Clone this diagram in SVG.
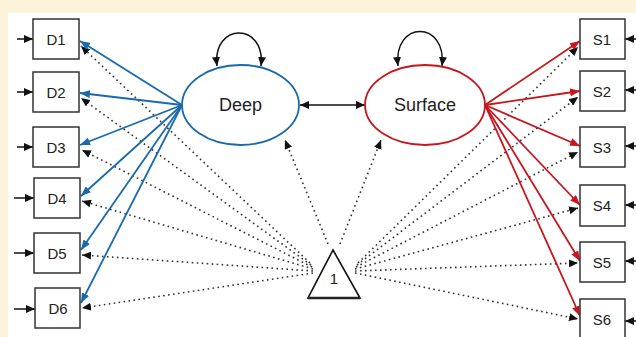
<svg xmlns="http://www.w3.org/2000/svg" width="636" height="337" viewBox="0 0 636 337">
<defs>
<style>
.box{fill:#fff;stroke:#333;stroke-width:1.5}
.lbl{font-family:"Liberation Sans",Arial,sans-serif;font-size:15px;fill:#222;text-anchor:middle}
.big{font-family:"Liberation Sans",Arial,sans-serif;font-size:18px;fill:#222;text-anchor:middle}
.blue{stroke:#1a6aab;stroke-width:1.8;fill:none;marker-end:url(#ab)}
.red{stroke:#c8161d;stroke-width:1.8;fill:none;marker-end:url(#ar)}
.dot{stroke:#333;stroke-width:1.6;fill:none;stroke-dasharray:1.6 3.4;marker-end:url(#ak)}
.blk{stroke:#111;stroke-width:1.5;fill:none}
</style>
<marker id="ak" viewBox="0 0 10 10" refX="10" refY="5" markerWidth="9" markerHeight="8" markerUnits="userSpaceOnUse" orient="auto" preserveAspectRatio="none"><path d="M0,0 L10,5 L0,10 z" fill="#111"/></marker>
<marker id="ak2" viewBox="0 0 10 10" refX="10" refY="5" markerWidth="9" markerHeight="8" markerUnits="userSpaceOnUse" orient="auto-start-reverse" preserveAspectRatio="none"><path d="M0,0 L10,5 L0,10 z" fill="#111"/></marker>
<marker id="ab" viewBox="0 0 10 10" refX="10" refY="5" markerWidth="10" markerHeight="8" markerUnits="userSpaceOnUse" orient="auto" preserveAspectRatio="none"><path d="M0,0 L10,5 L0,10 z" fill="#1a6aab"/></marker>
<marker id="ar" viewBox="0 0 10 10" refX="10" refY="5" markerWidth="10" markerHeight="8" markerUnits="userSpaceOnUse" orient="auto" preserveAspectRatio="none"><path d="M0,0 L10,5 L0,10 z" fill="#c8161d"/></marker>
</defs>
<rect x="0" y="0" width="636" height="337" fill="#fdf2da"/>
<rect x="8" y="13" width="628" height="324" fill="#ffffff"/>
<g id="connectors">
<!-- dotted from triangle -->
<line class="dot" x1="310" y1="263" x2="81" y2="46"/>
<line class="dot" x1="311" y1="265" x2="81" y2="98"/>
<line class="dot" x1="312" y1="267" x2="82" y2="150"/>
<line class="dot" x1="313" y1="269" x2="82" y2="201"/>
<line class="dot" x1="313" y1="271" x2="82" y2="255"/>
<line class="dot" x1="313" y1="273" x2="82" y2="308"/>
<line class="dot" x1="358" y1="263" x2="578" y2="47"/>
<line class="dot" x1="357" y1="265" x2="578" y2="97"/>
<line class="dot" x1="356" y1="267" x2="578" y2="152"/>
<line class="dot" x1="355" y1="269" x2="578" y2="208"/>
<line class="dot" x1="355" y1="271" x2="578" y2="263"/>
<line class="dot" x1="355" y1="273" x2="578" y2="319"/>
<line class="dot" x1="328" y1="244" x2="285" y2="140"/>
<line class="dot" x1="340" y1="244" x2="381" y2="140"/>
<!-- loadings -->
<line class="blue" x1="182" y1="105" x2="80" y2="41"/>
<line class="blue" x1="182" y1="105" x2="80" y2="93"/>
<line class="blue" x1="182" y1="105" x2="80" y2="145"/>
<line class="blue" x1="182" y1="105" x2="81" y2="196"/>
<line class="blue" x1="182" y1="105" x2="81" y2="250"/>
<line class="blue" x1="182" y1="105" x2="81" y2="303"/>
<line class="red" x1="485" y1="105" x2="580" y2="41"/>
<line class="red" x1="485" y1="105" x2="580" y2="91"/>
<line class="red" x1="485" y1="105" x2="580" y2="146"/>
<line class="red" x1="485" y1="105" x2="580" y2="205"/>
<line class="red" x1="485" y1="105" x2="580" y2="261"/>
<line class="red" x1="485" y1="105" x2="580" y2="316"/>
<!-- covariance and variances -->
<line class="blk" x1="300" y1="105" x2="365" y2="105" marker-start="url(#ak2)" marker-end="url(#ak2)"/>
<path class="blk" d="M217,66 C212,22 266,22 261,66" marker-start="url(#ak2)" marker-end="url(#ak2)"/>
<path class="blk" d="M398,66 C393,20 447,20 442,66" marker-start="url(#ak2)" marker-end="url(#ak2)"/>
<!-- residual arrows -->
<line class="blk" x1="17" y1="39" x2="33" y2="39" marker-end="url(#ak)"/>
<line class="blk" x1="17" y1="92" x2="33" y2="92" marker-end="url(#ak)"/>
<line class="blk" x1="17" y1="147" x2="33" y2="147" marker-end="url(#ak)"/>
<line class="blk" x1="14" y1="198" x2="34" y2="198" marker-end="url(#ak)"/>
<line class="blk" x1="14" y1="253" x2="34" y2="253" marker-end="url(#ak)"/>
<line class="blk" x1="14" y1="309" x2="35" y2="309" marker-end="url(#ak)"/>
<line class="blk" x1="636" y1="39" x2="625" y2="39" marker-end="url(#ak)"/>
<line class="blk" x1="636" y1="90" x2="625" y2="90" marker-end="url(#ak)"/>
<line class="blk" x1="636" y1="146" x2="625" y2="146" marker-end="url(#ak)"/>
<line class="blk" x1="636" y1="205" x2="625" y2="205" marker-end="url(#ak)"/>
<line class="blk" x1="636" y1="261" x2="625" y2="261" marker-end="url(#ak)"/>
<line class="blk" x1="636" y1="321" x2="625" y2="321" marker-end="url(#ak)"/>
</g>
<g id="D1"><rect class="box" x="33" y="19" width="46" height="40"/><text class="lbl" x="56" y="45">D1</text></g>
<g id="D2"><rect class="box" x="33" y="72" width="46" height="40"/><text class="lbl" x="56" y="98">D2</text></g>
<g id="D3"><rect class="box" x="33" y="127" width="46" height="40"/><text class="lbl" x="56" y="153">D3</text></g>
<g id="D4"><rect class="box" x="34" y="178" width="46" height="40"/><text class="lbl" x="57" y="204">D4</text></g>
<g id="D5"><rect class="box" x="34" y="233" width="46" height="40"/><text class="lbl" x="57" y="259">D5</text></g>
<g id="D6"><rect class="box" x="35" y="288" width="45" height="40"/><text class="lbl" x="58" y="314">D6</text></g>
<g id="S1"><rect class="box" x="580" y="19" width="45" height="40"/><text class="lbl" x="602" y="45">S1</text></g>
<g id="S2"><rect class="box" x="580" y="71" width="45" height="40"/><text class="lbl" x="602" y="97">S2</text></g>
<g id="S3"><rect class="box" x="580" y="127" width="45" height="40"/><text class="lbl" x="602" y="153">S3</text></g>
<g id="S4"><rect class="box" x="580" y="185" width="45" height="41"/><text class="lbl" x="602" y="211">S4</text></g>
<g id="S5"><rect class="box" x="580" y="242" width="45" height="40"/><text class="lbl" x="602" y="268">S5</text></g>
<g id="S6"><rect class="box" x="580" y="299" width="45" height="40"/><text class="lbl" x="602" y="325">S6</text></g>
<g id="Deep"><ellipse cx="240.5" cy="105" rx="58.5" ry="40" fill="#fff" stroke="#1a6aab" stroke-width="1.8"/><text class="big" x="240.5" y="111">Deep</text></g>
<g id="Surface"><ellipse cx="425" cy="105" rx="60" ry="40" fill="#fff" stroke="#c8161d" stroke-width="1.8"/><text class="big" x="425" y="111">Surface</text></g>
<g id="One"><path d="M333,250 L360,298 L308,298 Z" fill="#fff" stroke="#111" stroke-width="1.6" stroke-linejoin="miter"/><line x1="308" y1="298" x2="360" y2="298" stroke="#222" stroke-width="2.5"/><text class="lbl" x="334" y="284">1</text></g>
</svg>
